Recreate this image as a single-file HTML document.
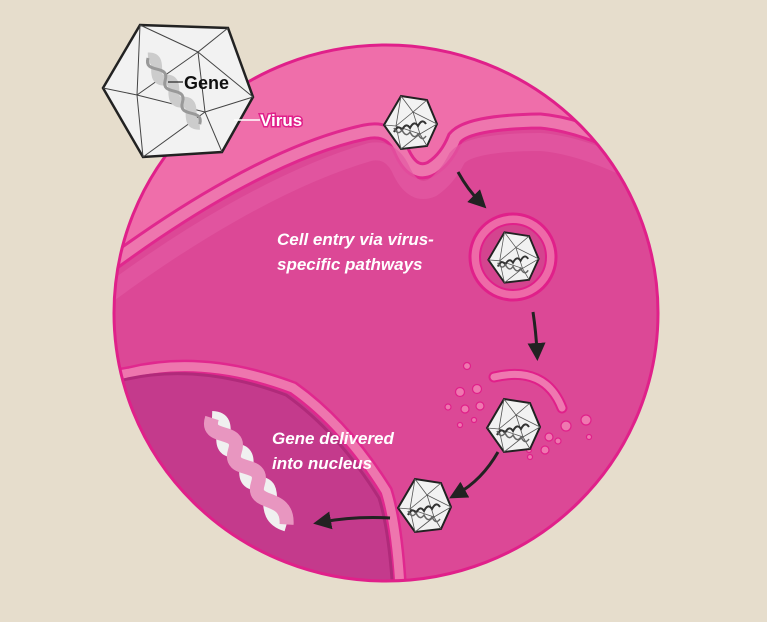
<!DOCTYPE html>
<html><head><meta charset="utf-8"><style>
html,body{margin:0;padding:0;background:#e6ddcc;}
svg{display:block}
.t{font-family:"Liberation Sans Narrow","Liberation Sans",sans-serif;font-style:italic;font-weight:bold;fill:#fff;font-size:17px}
</style></head><body>
<svg width="767" height="622" viewBox="0 0 767 622" xmlns="http://www.w3.org/2000/svg">
<defs>
<clipPath id="cell"><ellipse cx="386" cy="313" rx="272" ry="268"/></clipPath>
<g id="vir">
<polygon points="-9,-26 17,-22 27,2 17,24 -9,27 -26,3" fill="#f2f2f2" stroke="#222" stroke-width="2"/>
<path d="M-9,-26 L3,-10 L17,-22 M3,-10 L27,2 M3,-10 L-14,4 L-26,3 M-14,4 L-9,27 M-14,4 L10,12 L17,24 M10,12 L27,2 M10,12 L-9,27 M3,-10 L10,12 M-9,-26 L-14,4" stroke="#555" stroke-width="0.8" fill="none"/>
<path d="M-16,10 q4,-8 8,-2 q4,-8 8,-2 q4,-8 8,-2 q4,-8 8,-2" stroke="#333" stroke-width="2" fill="none"/>
<path d="M-16,6 q4,8 8,2 q4,8 8,2 q4,8 8,2 q4,8 8,2" stroke="#666" stroke-width="1.5" fill="none"/>
</g>
<marker id="ah" markerWidth="6" markerHeight="6" refX="3" refY="3" orient="auto" markerUnits="strokeWidth"><path d="M0,0 L6,3 L0,6 z" fill="#222"/></marker>
</defs>
<rect width="767" height="622" fill="#e6ddcc"/>
<ellipse cx="386" cy="313" rx="272" ry="268" fill="#dc4896"/>
<g clip-path="url(#cell)">
<path d="M100,272 C180,212 280,150 365,132 Q392,126 402,152 Q414,178 432,168 Q447,158 455,138 Q468,122 540,121 Q600,126 700,188 L700,0 L100,0 Z" fill="#ef6eaa"/>
<path d="M100,272 C180,212 280,150 365,132 Q392,126 402,152 Q414,178 432,168 Q447,158 455,138 Q468,122 540,121 Q600,126 700,188" fill="none" stroke="#e0288e" stroke-width="17"/>
<path d="M100,272 C180,212 280,150 365,132 Q392,126 402,152 Q414,178 432,168 Q447,158 455,138 Q468,122 540,121 Q600,126 700,188" fill="none" stroke="#ee76ae" stroke-width="11"/>
<path d="M100,300 C180,240 280,178 370,152 Q392,148 402,172 Q414,196 432,188 Q447,178 457,158 Q470,142 540,142 Q600,146 700,208" fill="none" stroke="#e35aa2" stroke-width="18" opacity="0.7"/>
<path d="M90,380 L130,373 Q205,355 293,388 Q345,425 386,491 Q400,535 402,640 L90,640 Z" fill="#c43a8c"/>
<path d="M90,380 L130,373 Q205,355 293,388 Q345,425 386,491 Q400,535 402,640" fill="none" stroke="#e0288e" stroke-width="14"/>
<path d="M90,380 L130,373 Q205,355 293,388 Q345,425 386,491 Q400,535 402,640" fill="none" stroke="#ee76ae" stroke-width="9"/>
<path d="M90,380 L130,373 Q205,355 293,388 Q345,425 386,491 Q400,535 402,640" fill="none" stroke="#b02a7a" stroke-width="3" transform="translate(-7,7)"/>
</g>
<ellipse cx="386" cy="313" rx="272" ry="268" fill="none" stroke="#e0208a" stroke-width="3"/>
<circle cx="513" cy="257" r="43" fill="#ee6aa8" stroke="#e0208a" stroke-width="3"/>
<circle cx="513" cy="257" r="33" fill="#d4448f" stroke="#e0208a" stroke-width="2"/>
<path d="M494,377 Q545,365 562,408" fill="none" stroke="#e0208a" stroke-width="11" stroke-linecap="round"/>
<path d="M494,377 Q545,365 562,408" fill="none" stroke="#ef78b0" stroke-width="7" stroke-linecap="round"/>
<g fill="#ef78b0" stroke="#e0208a" stroke-width="1.2">
<circle cx="467" cy="366" r="3.5"/><circle cx="460" cy="392" r="4.5"/><circle cx="477" cy="389" r="4.5"/><circle cx="448" cy="407" r="3"/><circle cx="465" cy="409" r="4"/><circle cx="480" cy="406" r="4"/><circle cx="474" cy="420" r="2.5"/><circle cx="460" cy="425" r="2.5"/>
<circle cx="566" cy="426" r="5"/><circle cx="586" cy="420" r="5"/><circle cx="549" cy="437" r="4"/><circle cx="558" cy="441" r="3"/><circle cx="545" cy="450" r="4"/><circle cx="529" cy="450" r="2.5"/><circle cx="589" cy="437" r="2.5"/><circle cx="530" cy="457" r="2.5"/>
</g>
<use href="#vir" x="410" y="122"/>
<use href="#vir" x="0" y="0" transform="translate(513,257) scale(0.95)"/>
<use href="#vir" x="513" y="425"/>
<use href="#vir" x="424" y="505"/>
<g stroke="#222" stroke-width="3" fill="none" marker-end="url(#ah)">
<path d="M458,172 Q468,190 480,202"/>
<path d="M533,312 Q536,332 537,352"/>
<path d="M498,452 Q482,480 457,494"/>
<path d="M390,518 Q355,516 322,522"/>
</g>
<g transform="translate(212,418) rotate(55)">
<path d="M0,0 C15,-20 25,20 40,0 C55,-20 65,20 80,0 C95,-20 105,20 130,0" stroke="#f0f0f0" stroke-width="14" fill="none"/>
<path d="M0,0 C15,20 25,-20 40,0 C55,20 65,-20 80,0 C95,20 105,-20 130,0" stroke="#e896c0" stroke-width="14" fill="none"/>
</g>
<g>
<polygon points="140,25 228,28 253,97 222,152 143,157 103,88" fill="#f2f2f2" stroke="#222" stroke-width="2.5"/>
<path d="M140,25 L198,52 L228,28 M198,52 L253,97 M198,52 L137,95 L103,88 M137,95 L143,157 M137,95 L205,112 L222,152 M205,112 L253,97 M205,112 L143,157 M198,52 L205,112 M140,25 L137,95" stroke="#444" stroke-width="1" fill="none"/>
<g transform="translate(148,58) rotate(52)">
<path d="M0,0 C10,-14 18,14 28,0 C38,-14 46,14 56,0 C66,-14 74,14 84,0" stroke="#ccc" stroke-width="11" fill="none"/>
<path d="M0,0 C10,14 18,-14 28,0 C38,14 46,-14 56,0 C66,14 74,-14 84,0" stroke="#999" stroke-width="3" fill="none"/>
</g>
<line x1="168" y1="82" x2="183" y2="82" stroke="#222" stroke-width="1.2"/>
<text x="184" y="89" font-family="Liberation Sans Narrow, Liberation Sans, sans-serif" font-weight="bold" font-size="18" fill="#111">Gene</text>
<line x1="234" y1="120" x2="260" y2="120" stroke="#fff" stroke-width="1.5"/>
<text x="260" y="126" class="t" style="font-style:normal;stroke:#e0208a;stroke-width:3;paint-order:stroke">Virus</text>
</g>
<text x="277" y="245" class="t">Cell entry via virus-</text>
<text x="277" y="270" class="t">specific pathways</text>
<text x="272" y="444" class="t">Gene delivered</text>
<text x="272" y="469" class="t">into nucleus</text>
</svg>
</body></html>
